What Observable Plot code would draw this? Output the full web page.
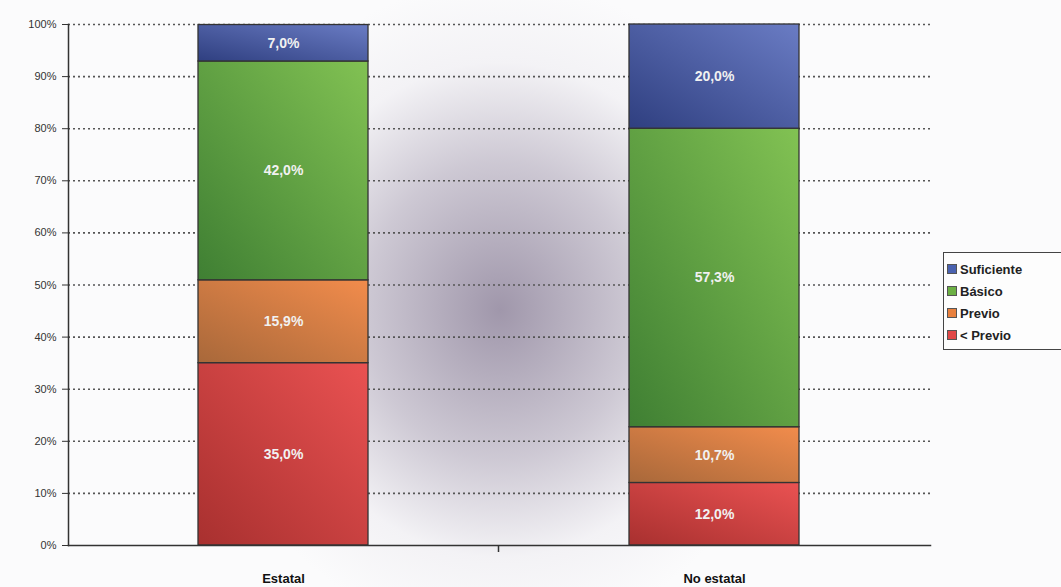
<!DOCTYPE html>
<html>
<head>
<meta charset="utf-8">
<script src="https://cdn.jsdelivr.net/npm/d3@7"></script>
<script src="https://cdn.jsdelivr.net/npm/@observablehq/plot@0.6"></script>
<style>
  html, body { margin: 0; padding: 0; background: #fbfbfc; }
  #wrap { position: relative; width: 1061px; height: 587px; overflow: hidden;
    background: radial-gradient(ellipse 300px 330px at 500px 310px, rgba(150,140,162,0.9), rgba(175,167,185,0.6) 45%, rgba(225,222,230,0.3) 75%, rgba(251,251,252,0) 100%); }
  #legend { position: absolute; left: 943px; top: 252px; width: 130px; height: 98px;
    border: 1px solid #444; background: #fdfdfd; font-family: "Liberation Sans", Arial, sans-serif;
    font-weight: bold; font-size: 13px; color: #222; box-sizing: border-box; padding: 5px 0 0 3px; }
  #legend .item { display: flex; align-items: center; height: 22px; }
  #legend .sw { width: 8px; height: 8px; margin-right: 3px; border: 1px solid #555; }
</style>
</head>
<body>
<div id="wrap"><div id="chart"></div><div id="legend"></div></div>
<script>
const categorias = ["Estatal", "No estatal"];
const niveles = ["< Previo", "Previo", "Básico", "Suficiente"];
const estatal = [35.0, 15.9, 42.0, 7.0];
const noEstatal = [12.0, 10.7, 57.3, 20.0];
const yTicks = [0, 10, 20, 30, 40, 50, 60, 70, 80, 90, 100];
const colores = [
  ["#a8302f", "#ea5252"],
  ["#a8683a", "#f28c4c"],
  ["#3f7f33", "#82c253"],
  ["#2f3f80", "#6a7cc4"]
];
const legendColors = ["#e04848", "#e8803e", "#6cb044", "#4a62b0"];

const series = [estatal, noEstatal];
const data = categorias.flatMap((c, i) => niveles.map((n, j) => ({cat: c, nivel: n, value: series[i][j]})));
const fmt = v => v.toFixed(1).replace(".", ",") + "%";

function midTick(index, scales, values, dims) {
  const x = scales.x;
  const mid = (x(categorias[0]) + x.bandwidth() + x(categorias[1])) / 2;
  const y0 = scales.y(0);
  const l = d3.create("svg:line")
    .attr("x1", mid).attr("x2", mid).attr("y1", y0).attr("y2", y0 + 7)
    .attr("stroke", "#333").attr("stroke-width", 1.5);
  return l.node();
}

const chart = Plot.plot({
  width: 1061,
  height: 587,
  marginLeft: 68,
  marginRight: 131,
  marginTop: 24,
  marginBottom: 42,
  style: {background: "transparent", fontFamily: "'Liberation Sans', Arial, sans-serif", color: "#333"},
  x: {domain: categorias, paddingInner: 0.605, paddingOuter: 0.3025, axis: null, label: null},
  y: {domain: [0, 100], axis: null, label: null},
  color: {domain: niveles, range: niveles.map((_, i) => `url(#grad${i})`)},
  marks: [
    Plot.ruleY(yTicks.filter(d => d > 0), {y: d => d, stroke: "#555", strokeWidth: 1.6, strokeDasharray: "2,3"}),
    Plot.barY(data, {x: "cat", y: "value", fill: "nivel", stroke: "#333", strokeWidth: 1.3}),
    Plot.text(data, Plot.stackY({x: "cat", y: "value", z: "nivel", text: d => fmt(d.value),
      fill: "#f1f1f1", fontSize: 14, fontWeight: "bold", letterSpacing: 1})),
    Plot.axisY({ticks: yTicks, tickFormat: d => d + "%", tickSize: 6, tickPadding: 6, fontSize: 11, stroke: "#333", label: null}),
    Plot.axisX({tickSize: 0, tickPadding: 28, fontSize: 13, fontWeight: "bold", fill: "#111", label: null}),
    Plot.frame({anchor: "left", stroke: "#333", strokeWidth: 1.5}),
    Plot.frame({anchor: "bottom", stroke: "#333", strokeWidth: 1.5}),
    midTick
  ]
});

const defs = d3.create("svg:defs");
colores.forEach((c, i) => {
  const g = defs.append("linearGradient").attr("id", `grad${i}`)
    .attr("x1", "0").attr("y1", "1").attr("x2", "1").attr("y2", "0");
  g.append("stop").attr("offset", "0%").attr("stop-color", c[0]);
  g.append("stop").attr("offset", "100%").attr("stop-color", c[1]);
});
chart.insertBefore(defs.node(), chart.firstChild);
document.getElementById("chart").appendChild(chart);

const legend = d3.select("#legend");
niveles.slice().reverse().forEach((n) => {
  const i = niveles.indexOf(n);
  const it = legend.append("div").attr("class", "item");
  it.append("div").attr("class", "sw").style("background", legendColors[i]);
  it.append("span").text(n);
});
</script>
</body>
</html>
